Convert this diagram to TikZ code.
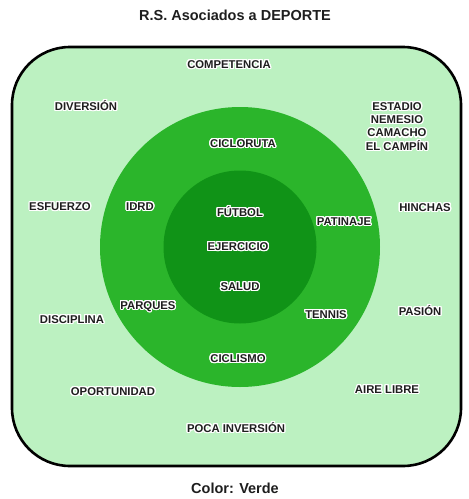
\documentclass[tikz,border=0pt]{standalone}
\usepackage{fontspec}
\setmainfont{Liberation Sans}
\usepackage[copies]{contour}
\contourlength{1.2pt}
\contournumber{20}
\usetikzlibrary{positioning}

\definecolor{fondo}{HTML}{BCF1C1}
\definecolor{anillo}{HTML}{2BB52B}
\definecolor{centro}{HTML}{109317}
\definecolor{tinta}{HTML}{1E1E1E}

\newcommand{\halo}[1]{\contour{white}{#1}}

\begin{document}
\begin{tikzpicture}[x=1pt,y=-1pt,
    etiqueta/.style={font=\bfseries\fontsize{11.3}{13.3}\selectfont, text=tinta, inner sep=0pt, align=center},
    titulo/.style={font=\bfseries\fontsize{14.5}{16}\selectfont, text=tinta, inner sep=0pt}]
    \useasboundingbox (0,0) rectangle (469,499);

    % Titles
    \node[titulo] (tit) at (235,15) {R.S. Asociados a DEPORTE};
    \node[titulo] (pie) at (235,488) {Color: Verde};

    % Frame and circles
    \draw[line width=2.6pt, fill=fondo, rounded corners=58pt] (12,47) rectangle (461,466);
    \node[circle, fill=anillo, minimum size=280pt, inner sep=0pt] (aro) at (240,247) {};
    \node[circle, fill=centro, minimum size=153pt, inner sep=0pt] (nucleo) at (240,247) {};

    % Outer ring of words
    \node[etiqueta] (competencia) at (229,65) {\halo{COMPETENCIA}};
    \node[etiqueta] (diversion) at (86,106) {\halo{DIVERSIÓN}};
    \node[etiqueta] (estadio) at (397,127) {\halo{ESTADIO}\\\halo{NEMESIO}\\\halo{CAMACHO}\\\halo{EL CAMPÍN}};
    \node[etiqueta] (esfuerzo) at (60,207) {\halo{ESFUERZO}};
    \node[etiqueta] (hinchas) at (425,208) {\halo{HINCHAS}};
    \node[etiqueta] (disciplina) at (72,320) {\halo{DISCIPLINA}};
    \node[etiqueta] (pasion) at (420,311) {\halo{PASIÓN}};
    \node[etiqueta] (oportunidad) at (113,392) {\halo{OPORTUNIDAD}};
    \node[etiqueta] (airelibre) at (387,390) {\halo{AIRE LIBRE}};
    \node[etiqueta] (pocainv) at (236,428) {\halo{POCA INVERSIÓN}};

    % Middle ring
    \node[etiqueta] (cicloruta) at (243,144) {\halo{CICLORUTA}};
    \node[etiqueta] (idrd) at (140,207) {\halo{IDRD}};
    \node[etiqueta] (patinaje) at (344,222) {\halo{PATINAJE}};
    \node[etiqueta] (parques) at (148,307) {\halo{PARQUES}};
    \node[etiqueta] (tennis) at (326,315) {\halo{TENNIS}};
    \node[etiqueta] (ciclismo) at (238,359) {\halo{CICLISMO}};

    % Core
    \node[etiqueta] (futbol) at (240,212) {\halo{FÚTBOL}};
    \node[etiqueta] (ejercicio) at (238,247) {\halo{EJERCICIO}};
    \node[etiqueta] (salud) at (240,287) {\halo{SALUD}};
\end{tikzpicture}
\end{document}
